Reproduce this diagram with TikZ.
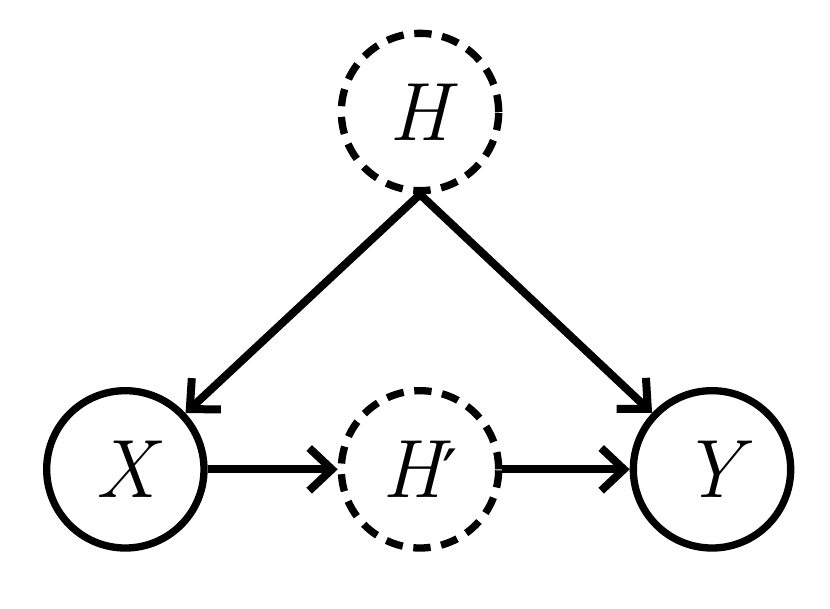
\documentclass[tikz,border=0pt]{standalone}
\usepackage{fontspec}
\newfontfamily\primefont{DejaVu Serif}
\usetikzlibrary{arrows.meta}
\tikzset{
  var/.style={circle, draw, line width=5.5pt, minimum size=118pt, inner sep=0pt, font=\fontsize{62}{70}\selectfont\itshape},
  hidden/.style={var, dash pattern=on 13pt off 8pt},
  link/.style={line width=6pt, -{Straight Barb[length=17pt,width=32pt,line width=6pt]}}
}
\begin{document}
\begin{tikzpicture}[x=1pt,y=1pt]
  \useasboundingbox (0,0) rectangle (622.5,-456);
  \node[hidden] (h) at (315,-84) {H};
  \node[var] (x) at (94,-352) {X};
  \node[hidden] (hp) at (315,-352) {H{\primefont\upshape\fontsize{50}{60}\selectfont ′}};
  \node[var] (y) at (534,-352) {Y};

  \draw[link] (h.south) -- (x);
  \draw[link] (h.south) -- (y);
  \draw[link] (x) -- (hp);
  \draw[link] (hp) -- (y);
\end{tikzpicture}
\end{document}
